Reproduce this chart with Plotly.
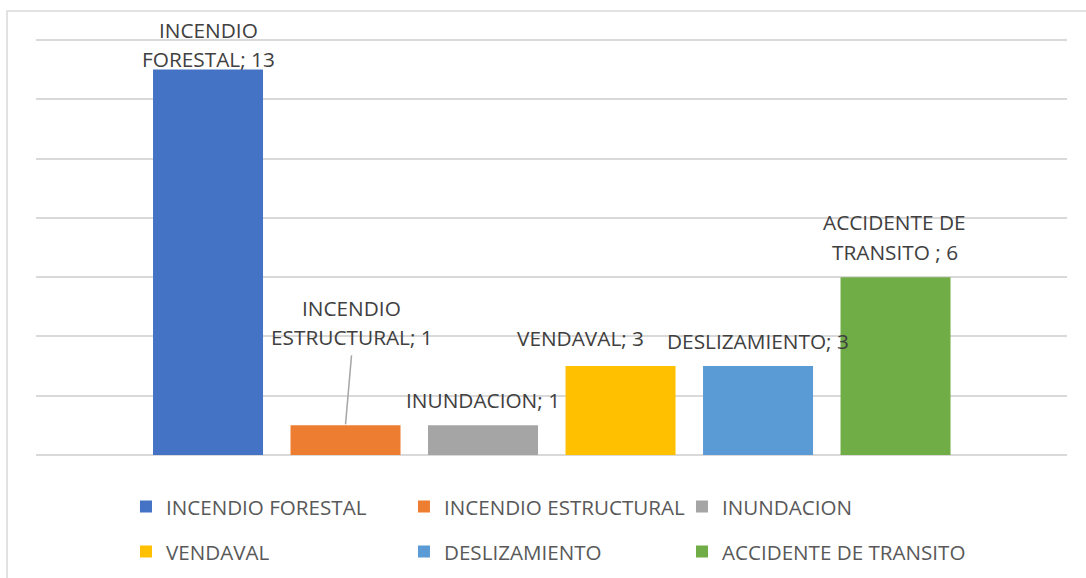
import plotly.graph_objects as go

categories = ["INCENDIO FORESTAL", "INCENDIO ESTRUCTURAL", "INUNDACION",
              "VENDAVAL", "DESLIZAMIENTO", "ACCIDENTE DE TRANSITO"]
values = [13, 1, 1, 3, 3, 6]
labels = ["INCENDIO<br>FORESTAL; 13", "INCENDIO<br>ESTRUCTURAL; 1", "INUNDACION; 1",
          "VENDAVAL; 3", "DESLIZAMIENTO; 3", "ACCIDENTE DE<br>TRANSITO ; 6"]
colors = ["#4472C4", "#ED7D31", "#A5A5A5", "#FFC000", "#5B9BD5", "#70AD47"]

# label offsets (pixels) relative to the bar top
label_xshift = [0, 6, 0, -40, 0, -1]
label_yshift = [25, 103, 25, 28, 25, 40]
LINE_SPACING = 29.5

# which legend block (row/column layout) each series goes into
legend_ids = ["legend", "legend", "legend", "legend2", "legend2", "legend3"]

FONT = "Open Sans"

fig = go.Figure()
for i, (c, v, col) in enumerate(zip(categories, values, colors)):
    fig.add_trace(go.Bar(
        x=[i], y=[v], name=c, marker=dict(color=col, line=dict(width=0)),
        width=0.8, legend=legend_ids[i],
        hoverinfo="name+y",
    ))
    lines = labels[i].split("<br>")
    n = len(lines)
    for j, line in enumerate(lines):
        fig.add_annotation(
            x=i, y=v, xref="x", yref="y", text=line, showarrow=False,
            xanchor="center", yanchor="middle",
            xshift=label_xshift[i],
            yshift=label_yshift[i] + ((n - 1) / 2 - j) * LINE_SPACING,
            font=dict(family=FONT, size=20.8, color="#404040"),
        )

# leader line for the INCENDIO ESTRUCTURAL label
fig.add_shape(type="line", xref="x", yref="y", xsizemode="pixel", ysizemode="pixel",
              xanchor=1, yanchor=values[1], x0=0, y0=1, x1=6, y1=70,
              line=dict(color="#a6a6a6", width=1.5))

# chart-area border
fig.add_shape(type="rect", xref="paper", yref="paper",
              x0=-0.0281, y0=-0.4, x1=1.2, y1=1.0622,
              line=dict(color="#d9d9d9", width=1.5), fillcolor="rgba(0,0,0,0)", layer="below")

legend_common = dict(
    orientation="h", xanchor="left", yanchor="middle",
    xref="container", yref="container",
    font=dict(family=FONT, size=20.6, color="#595959"),
    entrywidthmode="pixels",
    bgcolor="rgba(0,0,0,0)", itemclick=False, itemdoubleclick=False,
)

fig.update_layout(
    width=1086, height=578,
    margin=dict(l=36, r=19, t=37, b=123, autoexpand=False),
    paper_bgcolor="white", plot_bgcolor="white",
    barmode="overlay",
    showlegend=True,
    xaxis=dict(range=[-1.251, 6.247], showticklabels=False, showgrid=False,
               zeroline=False, showline=False, fixedrange=True),
    yaxis=dict(range=[0, 14.1], dtick=2, showticklabels=False, showgrid=True,
               gridcolor="#d9d9d9", gridwidth=1.5, zeroline=True,
               zerolinecolor="#d9d9d9", zerolinewidth=1.5, showline=False, fixedrange=True),
    legend=dict(x=0.1160, y=0.1235, entrywidth=233, **legend_common),
    legend2=dict(x=0.1160, y=0.0457, entrywidth=233, **legend_common),
    legend3=dict(x=0.6280, y=0.0457, entrywidth=0, **legend_common),
    font=dict(family=FONT),
)

fig.write_html("out.html",
               config={"displayModeBar": False},
               post_script="document.body.style.margin='0';document.body.style.overflow='hidden';")
